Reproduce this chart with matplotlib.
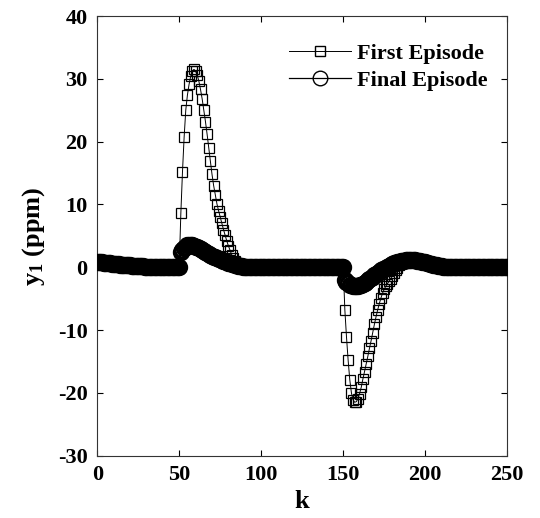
import numpy as np
import matplotlib
matplotlib.use("Agg")
import matplotlib.pyplot as plt

plt.rcParams['font.family'] = ['Liberation Serif', 'DejaVu Serif']
plt.rcParams['font.weight'] = 'bold'
plt.rcParams['mathtext.fontset'] = 'custom'
plt.rcParams['mathtext.rm'] = 'Liberation Serif:bold'
plt.rcParams['mathtext.it'] = 'Liberation Serif:bold'
plt.rcParams['mathtext.bf'] = 'Liberation Serif:bold'
plt.rcParams['mathtext.default'] = 'rm'
plt.rcParams['axes.unicode_minus'] = False

# sample index
k = np.arange(0, 251)

# ---- data ----
# common initial decay (k = 0..50)
init_decay = [0.90, 0.86, 0.82, 0.78, 0.74, 0.70, 0.67, 0.64, 0.61, 0.58,
              0.55, 0.52, 0.49, 0.46, 0.43, 0.40, 0.37, 0.35, 0.33, 0.30,
              0.28, 0.26, 0.24, 0.22, 0.20, 0.18, 0.16, 0.14, 0.12, 0.11,
              0.10, 0.09, 0.08, 0.07, 0.06, 0.05, 0.04, 0.03, 0.03, 0.02,
              0.02, 0.02, 0.01, 0.01, 0.01, 0.01, 0.0, 0.0, 0.0, 0.0, 0.0]

# First Episode, k = 51..95
first_d1 = [8.6, 15.2, 20.7, 25.0, 27.4, 29.1, 30.4, 31.2, 31.5, 31.2,
            30.6, 29.6, 28.3, 26.8, 25.0, 23.2, 21.2, 19.0, 16.9, 14.8,
            13.0, 11.5, 10.1, 9.0, 8.0, 7.0, 6.0, 5.1, 4.2, 3.4,
            2.7, 2.0, 1.5, 1.0, 0.6, 0.3, 0.1, 0.0, -0.05, -0.05,
            0.0, 0.0, 0.0, 0.0, 0.0]
# First Episode, k = 151..250
first_d2 = [-6.8, -11.1, -14.8, -17.9, -20.0, -21.1, -21.5, -21.4, -20.9, -20.1,
            -19.1, -17.8, -16.6, -15.4, -14.2, -12.9, -11.7, -10.4, -9.1, -7.9,
            -6.8, -5.8, -4.9, -4.1, -3.5, -3.0, -2.6, -2.2, -1.8, -1.4,
            -0.9, -0.5, -0.1, 0.3, 0.6, 0.8, 1.0, 1.1, 1.2, 1.2,
            1.2, 1.15, 1.1, 1.05, 1.0, 0.95, 0.9, 0.85, 0.8, 0.75,
            0.7, 0.63, 0.56, 0.5, 0.43, 0.36, 0.3, 0.24, 0.19, 0.15,
            0.11, 0.08, 0.06, 0.04, 0.03, 0.02, 0.01] + [0.0] * 33

# Final Episode, k = 51..95
final_d1 = [2.4, 2.8, 3.1, 3.3, 3.5, 3.6, 3.6, 3.5, 3.4, 3.3,
            3.15, 3.0, 2.85, 2.7, 2.55, 2.4, 2.25, 2.1, 1.95, 1.8,
            1.68, 1.56, 1.45, 1.35, 1.25, 1.15, 1.05, 0.95, 0.85, 0.75,
            0.65, 0.55, 0.46, 0.38, 0.3, 0.23, 0.17, 0.12, 0.08, 0.05,
            0.03, 0.02, 0.01, 0.0, 0.0]
# Final Episode, k = 151..250
final_d2 = [-2.0, -2.3, -2.55, -2.75, -2.9, -3.0, -3.0, -3.0, -2.95, -2.85,
            -2.75, -2.6, -2.45, -2.3, -2.1, -1.9, -1.7, -1.5, -1.3, -1.1,
            -0.9, -0.7, -0.5, -0.35, -0.2, -0.05, 0.1, 0.25, 0.4, 0.5,
            0.6, 0.7, 0.8, 0.9, 0.95, 1.0, 1.05, 1.1, 1.1, 1.15,
            1.15, 1.15, 1.1, 1.1, 1.05, 1.0, 0.95, 0.9, 0.85, 0.8,
            0.72, 0.65, 0.58, 0.5, 0.43, 0.36, 0.3, 0.24, 0.19, 0.15,
            0.11, 0.08, 0.06, 0.04, 0.03, 0.02, 0.01] + [0.0] * 33

quiet = [0.0] * 55  # k = 96..150

first_episode = np.array(init_decay + first_d1 + quiet + first_d2)
final_episode = np.array(init_decay + final_d1 + quiet + final_d2)

x_ticks = [0, 50, 100, 150, 200, 250]
y_ticks = [-30, -20, -10, 0, 10, 20, 30, 40]

fig = plt.figure(figsize=(5.4, 5.18), dpi=100)
ax = fig.add_axes([0.180, 0.1203, 0.7593, 0.8488])

ax.plot(k, first_episode, color='black', lw=0.7, marker='s', ms=7,
        mfc='none', mec='black', mew=0.9, label='First Episode', zorder=2)
ax.plot(k, final_episode, color='black', lw=0.9, marker='o', ms=10.5,
        mfc='none', mec='black', mew=2.0, label='Final Episode', zorder=3)

ax.set_xlim(0, 250)
ax.set_ylim(-30, 40)
ax.set_xticks(x_ticks)
ax.set_yticks(y_ticks)
ax.tick_params(direction='in', length=4, width=0.8, top=True, right=True,
               labelsize=16, pad=7)
for lab in ax.get_xticklabels() + ax.get_yticklabels():
    lab.set_fontweight('bold')
for s in ax.spines.values():
    s.set_linewidth(0.8)
    s.set_color('#333333')

ax.set_xlabel('k', fontsize=19, fontweight='bold', labelpad=3)
ax.set_ylabel('y$_1$ (ppm)', fontsize=19, fontweight='bold', labelpad=8)

leg = ax.legend(loc='upper right', bbox_to_anchor=(0.975, 0.958),
                frameon=False, numpoints=1,
                handlelength=2.8, handletextpad=0.3, borderaxespad=0.0,
                labelspacing=0.3, prop={'weight': 'bold', 'size': 16})
for h in leg.legend_handles:
    h.set_markeredgewidth(1.0)

fig.savefig('out.png', dpi=100)
